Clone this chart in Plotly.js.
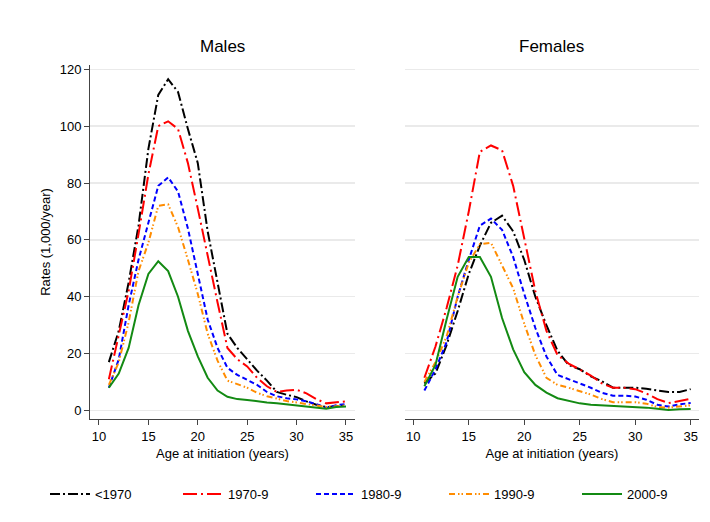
<!DOCTYPE html>
<html>
<head>
<meta charset="utf-8">
<script src="https://cdn.plot.ly/plotly-3.0.1.min.js"></script>
<style>html,body{margin:0;padding:0;background:#fff;}#chart{width:710px;height:522px;}</style>
</head>
<body>
<div id="chart"></div>
<script>
const ages = [11,12,13,14,15,16,17,18,19,20,21,22,23,24,25,26,27,28,29,30,31,32,33,34,35];
const cohorts = ["<1970","1970-9","1980-9","1990-9","2000-9"];

const males_pre1970 = [17,28,45,65,92,111,116.5,112,99,87,63,45,27,22,18,14,10.5,6.5,5.5,4.7,3.2,2,1.2,1.5,1.8];
const males_1970s   = [11,27,42,62,83,100,101.7,99,87,71,54,38,22,18,15.5,11.5,8.5,6.5,7,7.3,6,4,2.5,2.8,3.2];
const males_1980s   = [8,18,37,53,66,79,82,77,64,48,32,22,15,12.5,10.7,9,6.5,5,4.3,3.9,3.2,2.2,0.9,1.8,2.3];
const males_1990s   = [9,17,31,49,59,72,72.5,64.5,53,41,27,17.5,10.5,9.2,8,6.2,5,4.2,3.3,2.8,2.3,1.9,1.2,1.5,1.8];
const males_2000s   = [8,13,22,37,48,52.5,49,40,28,19,11.5,7,4.8,4,3.7,3.2,2.8,2.5,2.1,1.8,1.4,1.0,0.6,1.2,1.4];

const females_pre1970 = [9.5,13,23,35,48,58,66,68.5,63,53,40,30,21,16,14.5,12,10.3,8,8,8,7.6,7.1,6.5,6.5,7.5];
const females_1970s   = [11.5,22.5,36,51,70,91,93.2,91.5,79,61,42,28,19.5,16.5,14.5,12.3,9.5,8,8,7.5,6,4,2.6,3.4,4.1];
const females_1980s   = [7,14.5,24,40,53,65,67.5,63.5,54,41,29,19,12.5,11,9.7,8,6.2,5.2,5.2,4.9,3.8,2,1.4,2.2,2.6];
const females_1990s   = [10,17,26,40,52,58.5,59,51,43,30.5,19.5,11.5,9,8,6.8,5.6,4,2.9,2.9,2.9,2.4,1.2,1,1.5,1.8];
const females_2000s   = [8.5,16,32,47,54,54,47,32.5,21.5,13.5,9,6.3,4.3,3.3,2.5,2,1.8,1.5,1.4,1.3,1,0.6,0.2,0.4,0.5];

const maleSeries = [males_pre1970, males_1970s, males_1980s, males_1990s, males_2000s];
const femaleSeries = [females_pre1970, females_1970s, females_1980s, females_1990s, females_2000s];

const colors = ["#000000","#FF0000","#0000FF","#FF8C00","#138A13"];
const dashes = ["10px,3px,2px,3px","14px,4px,2px,4px","5px,3px","6px,3px,1.5px,2px,1.5px,3px","solid"];

const traces = [];
cohorts.forEach((c,i)=>{
  traces.push({x:ages, y:maleSeries[i], type:'scatter', mode:'lines', name:c, legendgroup:c,
    line:{color:colors[i], width:2, dash:dashes[i]}, xaxis:'x', yaxis:'y'});
});
cohorts.forEach((c,i)=>{
  traces.push({x:ages, y:femaleSeries[i], type:'scatter', mode:'lines', name:c, legendgroup:c, showlegend:false,
    line:{color:colors[i], width:2, dash:dashes[i]}, xaxis:'x2', yaxis:'y2'});
});

const font = {family:'"Liberation Sans", Arial, sans-serif', size:13, color:'#000'};
const xbase = {
  tickvals:[10,15,20,25,30,35], ticks:'outside', ticklen:5, tickcolor:'#444', tickwidth:1,
  showline:true, linecolor:'#444', linewidth:1, showgrid:false, zeroline:false,
  tickfont:{size:13}, title:{text:'Age at initiation (years)', font:{size:13}, standoff:6}
};
const ybase = {
  range:[-3,121.5], tickvals:[0,20,40,60,80,100,120], showgrid:true, gridcolor:'#EAEAEA', gridwidth:1.5,
  zeroline:false, tickfont:{size:13}
};

const layout = {
  width:710, height:522,
  margin:{l:90, r:11, t:65, b:103},
  paper_bgcolor:'#fff', plot_bgcolor:'#fff',
  font: font,
  showlegend:true,
  xaxis: Object.assign({}, xbase, {domain:[0,0.4351], range:[9.09,35.91], anchor:'y'}),
  xaxis2: Object.assign({}, xbase, {domain:[0.5172,1], range:[9.25,35.75], anchor:'y2'}),
  yaxis: Object.assign({}, ybase, {anchor:'x', showline:true, linecolor:'#444', linewidth:1, ticks:'outside', ticklen:5, tickcolor:'#444',
    title:{text:'Rates (1,000/year)', font:{size:13}, standoff:6}}),
  yaxis2: Object.assign({}, ybase, {anchor:'x2', showline:false, showticklabels:false, ticks:''}),
  legend:{orientation:'h', x:-0.026, xanchor:'left', y:-0.212, yanchor:'middle', font:{size:13},
    entrywidth:78, itemwidth:40, traceorder:'normal'},
  annotations:[
    {text:'Males', xref:'paper', yref:'paper', x:0.4351/2, y:1.051, xanchor:'center', yanchor:'middle', showarrow:false, font:{size:17}},
    {text:'Females', xref:'paper', yref:'paper', x:(0.5172+1)/2, y:1.051, xanchor:'center', yanchor:'middle', showarrow:false, font:{size:17}}
  ]
};

Plotly.newPlot('chart', traces, layout, {displayModeBar:false, staticPlot:true});
</script>
</body>
</html>
